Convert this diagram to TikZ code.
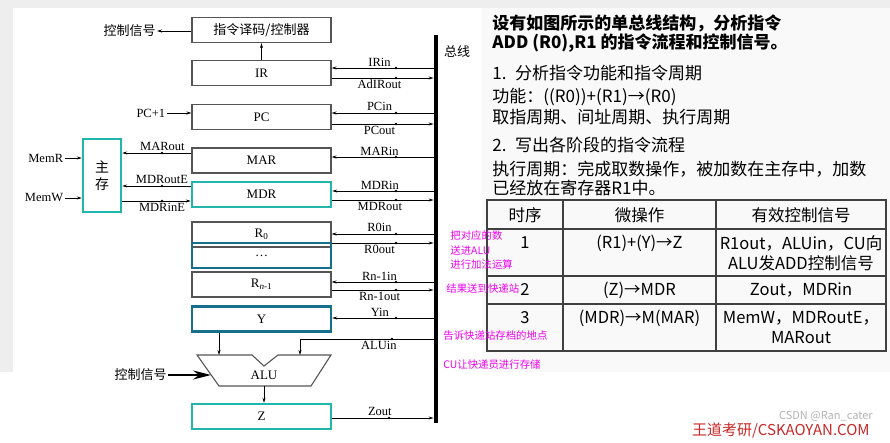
\documentclass[tikz,border=0pt]{standalone}
\usepackage{fontspec}
\setmainfont{Liberation Serif}
\newfontfamily\cjk{Noto Sans CJK SC}
\usetikzlibrary{arrows.meta}
\definecolor{mdrteal}{RGB}{32,182,172}
\definecolor{regteal}{RGB}{22,112,140}
\definecolor{notepink}{RGB}{240,0,240}
\definecolor{brandred}{RGB}{200,40,40}
\definecolor{boxgray}{RGB}{85,85,85}
\definecolor{panelgray}{RGB}{238,238,238}
\tikzset{
  >={Stealth[length=5pt,width=3pt]},
  regbox/.style={draw=boxgray, line width=1.1pt, minimum width=139pt, minimum height=25pt, inner sep=0pt, font=\fontsize{13}{13}\selectfont},
  tealbox/.style={regbox, draw=mdrteal, line width=2.4pt},
  darkbox/.style={regbox, draw=regteal, line width=2.4pt},
  sig/.style={font=\fontsize{12.5}{12.5}\selectfont, inner sep=1.5pt},
  cn/.style={inner sep=1pt, font=\cjk\fontsize{13}{13}\selectfont},
  txt/.style={anchor=west, inner sep=0pt, font=\cjk\fontsize{17}{17}\selectfont},
  cell/.style={inner sep=0pt, font=\cjk\fontsize{16.5}{16.5}\selectfont},
  note/.style={anchor=west, inner sep=0pt, text=notepink, font=\cjk\fontsize{10.4}{10.4}\selectfont}
}
\begin{document}
\begin{tikzpicture}[x=1pt,y=-1pt,line width=0.8pt]
% Background
\useasboundingbox (0,0) rectangle (890,443);
\fill[white] (0,0) rectangle (890,443);
\fill[panelgray] (0,0) rectangle (890,8);
\fill[panelgray] (0,0) rectangle (13,372);
\fill[gray!5] (482,8) rectangle (890,372);
% Bus
\node[fill=black, minimum width=4pt, minimum height=388pt, inner sep=0pt] (bus) at (436,229) {};
\node[cn] (buslabel) at (457,52) {总线};
% Registers
\node[regbox, font=\cjk\fontsize{13}{13}\selectfont] (dec) at (261.5,30) {指令译码/控制器};
\node[regbox] (ir) at (261.5,73) {IR};
\node[regbox] (pc) at (261.5,117) {PC};
\node[regbox] (mar) at (261.5,160.5) {MAR};
\node[tealbox] (mdr) at (261.5,194.5) {MDR};
\node[regbox] (r0) at (261.5,234.5) {R\textsubscript{0}};
\node[darkbox] (rdots) at (261.5,255.5) {\dots};
\node[regbox] (rn) at (261.5,284.5) {R\textsubscript{\textit{n}-1}};
\node[darkbox] (y) at (261.5,319) {Y};
\node[tealbox] (z) at (261.5,416.5) {Z};
% Main memory
\node[draw=mdrteal, line width=2.4pt, minimum width=38pt, minimum height=73pt, inner sep=0pt, align=center, font=\cjk\fontsize{14}{17}\selectfont] (mem) at (102,175.5) {主\\存};
% Inputs on the left
\node[cn, anchor=east] (ctrltop) at (157,31) {控制信号};
\draw[->] (dec.west |- ctrltop) -- (ctrltop.east);
\draw[->] (ir.north) -- (dec.south);
\node[sig, anchor=east] (pcinc) at (167,113) {PC+1};
\draw[->] (pcinc.east) -- (pcinc.east -| pc.west);
\node[sig, anchor=east] (memr) at (65,158) {MemR};
\draw[->] (memr.east) -- (memr.east -| mem.west);
\node[sig, anchor=east] (memw) at (65,198) {MemW};
\draw[->] (memw.east) -- (memw.east -| mem.west);
% Memory signals
\draw[->] (mar.west |- 0,153) -- node[sig, above, pos=.42] (marout) {MARout} (mem.east |- 0,153);
\draw[->] (mdr.west |- 0,186) -- node[sig, above, pos=.42] (mdroute) {MDRoutE} (mem.east |- 0,186);
\draw[->] (mem.east |- 0,201) -- node[sig, below, pos=.58] (mdrine) {MDRinE} (mdr.west |- 0,201);
% Bus signals
\draw[<-] (ir.east |- 0,68) -- node[sig, above, pos=.47] (irin) {IRin} (bus.west |- 0,68);
\draw[->] (ir.east |- 0,78) -- node[sig, below, pos=.47] (adirout) {AdIRout} (bus.west |- 0,78);
\draw[<-] (pc.east |- 0,113) -- node[sig, above, pos=.47] (pcin) {PCin} (bus.west |- 0,113);
\draw[->] (pc.east |- 0,124) -- node[sig, below, pos=.47] (pcout) {PCout} (bus.west |- 0,124);
\draw[<-] (mar.east |- 0,157) -- node[sig, above, pos=.47] (marin) {MARin} (bus.west |- 0,157);
\draw[<-] (mdr.east |- 0,191) -- node[sig, above, pos=.47] (mdrin) {MDRin} (bus.west |- 0,191);
\draw[->] (mdr.east |- 0,200) -- node[sig, below, pos=.47] (mdrout) {MDRout} (bus.west |- 0,200);
\draw[<-] (r0.east |- 0,234) -- node[sig, above, pos=.47] (rzin) {R0in} (bus.west |- 0,234);
\draw[->] (r0.east |- 0,243) -- node[sig, below, pos=.47] (rzout) {R0out} (bus.west |- 0,243);
\draw[<-] (rn.east |- 0,282) -- node[sig, above, pos=.47] (rnin) {Rn-1in} (bus.west |- 0,282);
\draw[->] (rn.east |- 0,290) -- node[sig, below, pos=.47] (rnout) {Rn-1out} (bus.west |- 0,290);
\draw[<-] (y.east |- 0,318) -- node[sig, above, pos=.47] (yin) {Yin} (bus.west |- 0,318);
\draw[->] (z.east |- 0,418) -- node[sig, above, pos=.47] (zout) {Zout} (bus.west |- 0,418);
% Dots
\foreach \yy in {68,78,113,124,157,191,200,234,243,282,290,318}
  \fill (396,\yy) circle (1.3pt);
\foreach \yy in {153,186,201}
  \fill (162,\yy) circle (1.3pt);
\fill (389,418) circle (1.3pt);
\fill (392,339) circle (1.3pt);
% ALU
\draw[boxgray, line width=1.1pt] (197,355) -- (252,355) -- (264,366) -- (278,355) -- (331,355) -- (311,386) -- (219,386) -- cycle;
\node[sig, font=\fontsize{13}{13}\selectfont] (alu) at (264,375) {ALU};
\coordinate (aluinl) at (219,355);
\coordinate (aluinr) at (300,355);
\coordinate (aluout) at (264,386);
\coordinate (aluleft) at (211,375);
\draw[->] (y.south -| aluinl) -- (aluinl);
\draw[->] (bus.west |- 0,339) -- node[sig, below, pos=.41] (aluin) {ALUin} (aluinr |- 0,339) -- (aluinr);
\draw[->] (aluout) -- (aluout |- z.north);
\node[cn, anchor=east] (ctrlalu) at (168,375) {控制信号};
\draw[-{Stealth[length=18pt,width=9pt,inset=6pt]}, line width=2pt] (ctrlalu.east) -- (aluleft);
% Question text
\node[txt, font=\cjk\bfseries\fontsize{17}{17}\selectfont] (q1) at (492,23) {设有如图所示的单总线结构，分析指令};
\node[txt, font=\cjk\bfseries\fontsize{17}{17}\selectfont] (q2) at (492,43) {ADD (R0),R1 的指令流程和控制信号。};
\node[txt] (s1) at (492,73) {1.\enspace 分析指令功能和指令周期};
\node[txt] (fn) at (492,97) {功能：((R0))+(R1)→(R0)};
\node[txt] (cyc) at (492,117) {取指周期、间址周期、执行周期};
\node[txt] (s2) at (492,145) {2.\enspace 写出各阶段的指令流程};
\node[txt] (ex1) at (492,169) {执行周期：完成取数操作，被加数在主存中，加数};
\node[txt] (ex2) at (492,188) {已经放在寄存器R1中。};
% Table
\draw[line width=1.3pt, black!75] (487,200) rectangle (886,351);
\draw[line width=1.3pt, black!75] (487,229) -- (886,229);
\draw[line width=1.3pt, black!75] (487,276) -- (886,276);
\draw[line width=1.3pt, black!75] (487,304) -- (886,304);
\draw[line width=1.3pt, black!75] (563,200) -- (563,351);
\draw[line width=1.3pt, black!75] (716,200) -- (716,351);
\node[cell] (h1) at (525,215) {时序};
\node[cell] (h2) at (639.5,215) {微操作};
\node[cell] (h3) at (801,215) {有效控制信号};
\node[cell] (t1) at (525,243) {1};
\node[cell] (m1) at (639.5,243) {(R1)+(Y)→Z};
\node[cell] (c1a) at (801,243) {R1out，ALUin，CU向};
\node[cell] (c1b) at (801,263) {ALU发ADD控制信号};
\node[cell] (t2) at (525,290) {2};
\node[cell] (m2) at (639.5,290) {(Z)→MDR};
\node[cell] (c2) at (801,290) {Zout，MDRin};
\node[cell] (t3) at (525,318) {3};
\node[cell] (m3) at (639.5,318) {(MDR)→M(MAR)};
\node[cell] (c3a) at (801,318) {MemW，MDRoutE，};
\node[cell] (c3b) at (801,338) {MARout};
% Notes
\node[note] (n1) at (450,236) {把对应的数};
\node[note] (n2) at (450,251) {送进ALU};
\node[note] (n3) at (450,265) {进行加法运算};
\node[note] (n4) at (446,289) {结果送到快递站};
\node[note] (n5) at (443,336) {告诉快递站存档的地点};
\node[note] (n6) at (443,365) {CU让快递员进行存储};
% Watermark
\node[anchor=east, inner sep=0pt, text=brandred, font=\cjk\fontsize{15}{15}\selectfont] (brand) at (870,431) {王道考研/CSKAOYAN.COM};
\node[anchor=east, inner sep=0pt, text=gray, opacity=.6, font=\cjk\fontsize{11}{11}\selectfont] (csdn) at (873,416) {CSDN @Ran\_cater};
\end{tikzpicture}
\end{document}
